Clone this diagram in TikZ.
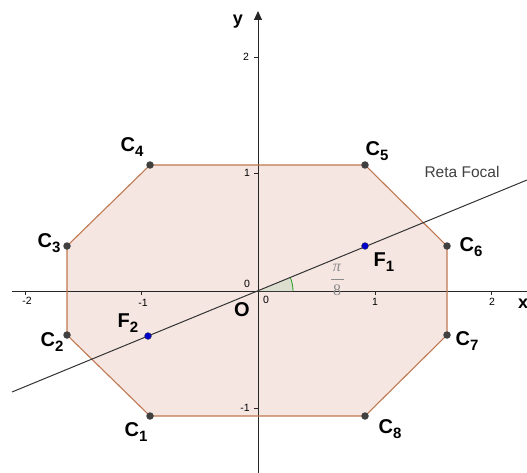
\documentclass[tikz,border=0pt]{standalone}
\usepackage{fontspec}
\setmainfont{Liberation Sans}
\newfontfamily\fracfont{Liberation Serif}
\usetikzlibrary{arrows.meta}
\definecolor{polyfill}{HTML}{F5E6E2}
\definecolor{polyedge}{HTML}{C07850}
\definecolor{ptgray}{HTML}{404040}
\definecolor{fblue}{HTML}{0000C8}
\definecolor{anglefill}{HTML}{D6DDCC}
\definecolor{anglegreen}{HTML}{20A020}
\tikzset{
  pt/.style={circle,fill=ptgray,inner sep=0pt,minimum size=7.5pt},
  fpt/.style={circle,fill=fblue,draw=black!70,line width=0.3pt,inner sep=0pt,minimum size=7pt},
  lbl/.style={font=\bfseries\fontsize{20}{22}\selectfont,inner sep=0pt},
  tick/.style={font=\fontsize{10.5}{12}\selectfont,inner sep=0pt},
  axis/.style={line width=0.9pt,black!85},
  fracpart/.style={text=black!45,inner sep=0pt,font=\fracfont\fontsize{16}{18}\selectfont},
}
\newcommand{\Cl}[1]{C\raisebox{-0.5ex}{\fontsize{15}{15}\selectfont\bfseries #1}}
\begin{document}
\begin{tikzpicture}[x=1pt,y=-1pt]
\useasboundingbox (0,0) rectangle (527,473);
% points
\coordinate (O) at (258,291);
\coordinate (c1) at (150,416);
\coordinate (c2) at (67,335);
\coordinate (c3) at (67,246);
\coordinate (c4) at (150,165);
\coordinate (c5) at (365,165);
\coordinate (c6) at (447,246);
\coordinate (c7) at (447,335);
\coordinate (c8) at (365,416);
% polygon
\fill[polyfill] (c1)--(c2)--(c3)--(c4)--(c5)--(c6)--(c7)--(c8)--cycle;
% axes
\coordinate (xl) at (12,291);
\coordinate (xr) at (527,291);
\coordinate (yb) at (258,473);
\coordinate (yt) at (258,11);
\draw[axis] (xl) -- (xr);
\draw[axis,-{Triangle[length=9pt,width=8pt]}] (yb) -- (yt);
% ticks
\foreach \x in {25,141,375,491}{
  \draw[black!85,line width=0.7pt] (\x,291) -- (\x,295);
}
\node[tick] (tm2) at (27,301) {-2};
\node[tick] (tm1) at (143,303) {-1};
\node[tick] (tp1) at (375,302) {1};
\node[tick] (tp2) at (492,302) {2};
\foreach \y in {57,173,408}{
  \draw[black!85,line width=0.7pt] (254,\y) -- (258,\y);
}
\node[tick] (ty2) at (246,57) {2};
\node[tick] (ty1) at (247,173) {1};
\node[tick] (tym1) at (245,408) {-1};
\node[tick] (z1) at (247,284) {0};
\node[tick] (z2) at (266,300) {0};
% polygon edges
\draw[polyedge,line width=1.1pt] (c1)--(c2)--(c3)--(c4)--(c5)--(c6)--(c7)--(c8)--cycle;
% angle
\fill[anglefill,opacity=0.8] (O) -- (293,291) arc[start angle=0,end angle=-22.5,radius=35] -- cycle;
\draw[anglegreen,line width=0.8pt] (293,291) arc[start angle=0,end angle=-22.5,radius=35];
\node[fracpart] (pinum) at (337,268) {\textit{π}};
\coordinate (barl) at (331,279);
\coordinate (barr) at (344,279);
\draw[black!45,line width=0.6pt] (barl) -- (barr);
\node[fracpart] (piden) at (337,290) {8};
% focal line
\coordinate (fl) at (12,392);
\coordinate (fr) at (527,180);
\draw[black!80,line width=1pt] (fl) -- (fr);
\node[font=\fontsize{15.5}{17}\selectfont,text=black!75,inner sep=0pt] (reta) at (462,172) {Reta Focal};
% vertex dots
\foreach \c in {c1,c2,c3,c4,c5,c6,c7,c8}{ \node[pt] at (\c) {}; }
\node[fpt] (F1) at (365,246) {};
\node[fpt] (F2) at (148,336) {};
% labels
\node[lbl] (L1) at (136,432) {\Cl{1}};
\node[lbl] (L2) at (52,342) {\Cl{2}};
\node[lbl] (L3) at (49,243) {\Cl{3}};
\node[lbl] (L4) at (132,147) {\Cl{4}};
\node[lbl] (L5) at (377,151) {\Cl{5}};
\node[lbl] (L6) at (471,247) {\Cl{6}};
\node[lbl] (L7) at (467,341) {\Cl{7}};
\node[lbl] (L8) at (390,429) {\Cl{8}};
\node[lbl] (LF1) at (384,262) {F\raisebox{-0.5ex}{\fontsize{15}{15}\selectfont\bfseries 1}};
\node[lbl] (LF2) at (128,323) {F\raisebox{-0.5ex}{\fontsize{15}{15}\selectfont\bfseries 2}};
\node[lbl] (LO) at (242,310) {O};
\node[lbl,font=\bfseries\fontsize{18}{20}\selectfont] (Lx) at (523,304) {x};
\node[lbl,font=\bfseries\fontsize{18}{20}\selectfont] (Ly) at (238,22) {y};
\end{tikzpicture}
\end{document}
